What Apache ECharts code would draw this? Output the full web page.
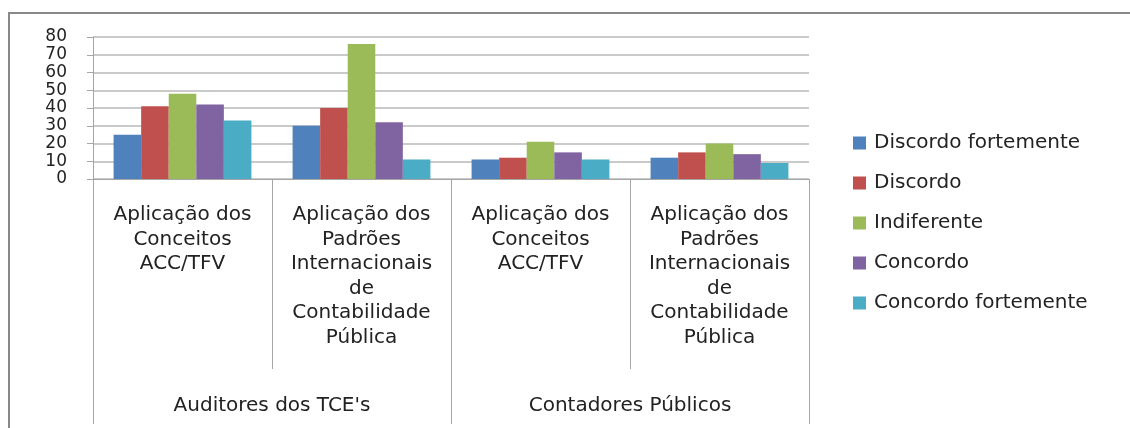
<!DOCTYPE html>
<html>
<head>
<meta charset="utf-8">
<script src="https://cdn.jsdelivr.net/npm/echarts@6/dist/echarts.min.js"></script>
<style>
  html, body { margin: 0; padding: 0; background: #fff; }
  #chart { width: 1130px; height: 428px; }
</style>
</head>
<body>
<div id="chart"></div>
<script>
var subCategories = [
    'Aplicação dos\nConceitos\nACC/TFV',
    'Aplicação dos\nPadrões\nInternacionais\nde\nContabilidade\nPública',
    'Aplicação dos\nConceitos\nACC/TFV',
    'Aplicação dos\nPadrões\nInternacionais\nde\nContabilidade\nPública'
];
var groups = ["Auditores dos TCE's", 'Contadores Públicos'];

var discordoFortemente = [25, 30, 11, 12];
var discordo = [41, 40, 12, 15];
var indiferente = [48, 76, 21, 20];
var concordo = [42, 32, 15, 14];
var concordoFortemente = [33, 11, 11, 9];

var seriesNames = ['Discordo fortemente', 'Discordo', 'Indiferente', 'Concordo', 'Concordo fortemente'];
var seriesValues = [discordoFortemente, discordo, indiferente, concordo, concordoFortemente];
var colors = ['#4F81BD', '#C0504D', '#9BBB59', '#8064A2', '#4BACC6'];

var font = 'DejaVu Sans';
var axisGrey = '#a6a6a6';

var chart = echarts.init(document.getElementById('chart'));

var option = {
    animation: false,
    color: colors,
    textStyle: { fontFamily: font },
    graphic: [{
        type: 'rect',
        shape: { x: 9, y: 13, width: 1300, height: 600 },
        style: { fill: 'none', stroke: '#898989', lineWidth: 2 },
        silent: true
    }],
    grid: {
        left: 93,
        right: 321,
        top: 37,
        bottom: 249
    },
    legend: {
        orient: 'vertical',
        left: 853,
        top: 132,
        padding: 0,
        icon: 'rect',
        itemWidth: 13,
        itemHeight: 13,
        itemGap: 18,
        textStyle: {
            fontFamily: font,
            fontSize: 20,
            lineHeight: 22,
            padding: [0, 0, 0, 3],
            color: '#222'
        },
        data: seriesNames
    },
    xAxis: [{
        type: 'category',
        data: subCategories,
        position: 'bottom',
        axisLine: { show: true, lineStyle: { color: axisGrey, width: 1 } },
        axisTick: { show: true, interval: 0, length: 190, lineStyle: { color: axisGrey } },
        axisLabel: {
            interval: 0,
            margin: 24,
            fontFamily: font,
            fontSize: 20,
            lineHeight: 24.5,
            color: '#222'
        }
    }, {
        type: 'category',
        data: groups,
        position: 'bottom',
        axisLine: { show: false },
        axisTick: { show: true, interval: 0, length: 245, lineStyle: { color: axisGrey } },
        axisLabel: {
            interval: 0,
            margin: 217,
            fontFamily: font,
            fontSize: 20,
            color: '#222'
        }
    }],
    yAxis: {
        type: 'value',
        min: 0,
        max: 80,
        interval: 10,
        axisLine: { show: true, lineStyle: { color: axisGrey } },
        axisTick: { show: true, length: 6, lineStyle: { color: axisGrey } },
        axisLabel: {
            interval: 0,
            margin: 26,
            fontFamily: font,
            fontSize: 17,
            lineHeight: 12,
            showMinLabel: true,
            showMaxLabel: true,
            hideOverlap: false,
            color: '#222'
        },
        splitLine: { lineStyle: { color: '#b8b8b8', width: 1.5 } }
    },
    series: seriesNames.map(function (name, i) {
        return {
            name: name,
            type: 'bar',
            xAxisIndex: 0,
            barGap: '0%',
            barCategoryGap: '23%',
            data: seriesValues[i]
        };
    })
};

chart.setOption(option);
</script>
</body>
</html>
